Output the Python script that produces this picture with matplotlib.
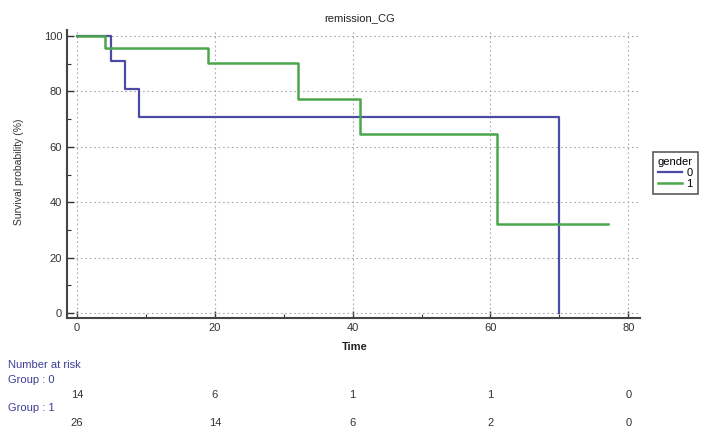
import matplotlib
matplotlib.use("Agg")
import matplotlib.pyplot as plt
from matplotlib.ticker import MultipleLocator

plt.rcParams['font.family'] = ['Liberation Sans', 'DejaVu Sans']

title = "remission_CG"
xlabel = "Time"
ylabel = "Survival probability (%)"
legend_title = "gender"
group_labels = ["0", "1"]

t0 = [0, 5, 7, 9, 70]
s0 = [100, 90.9, 80.8, 70.7, 0]
t1 = [0, 4, 19, 32, 41, 61, 77]
s1 = [100, 95.7, 90.3, 77.3, 64.6, 32.3, 32.3]

risk_times = [0, 20, 40, 60, 80]
risk0 = [14, 6, 1, 1, 0]
risk1 = [26, 14, 6, 2, 0]

blue = "#4b4ba6"
green = "#4aa64a"
textblue = "#3c3c96"

W, H = 718, 430
fig = plt.figure(figsize=(W/100, H/100), dpi=100)
ax = fig.add_axes([67/W, 1-318/H, (640-67)/W, (318-30)/H])
ax.set_xlim(-1.45, 81.7)
ax.set_ylim(-1.8, 102.2)

l0, = ax.step(t0, s0, where='post', color=blue, lw=1.6)
l1, = ax.step(t1, s1, where='post', color=green, lw=1.8)

ax.xaxis.set_major_locator(MultipleLocator(20))
ax.xaxis.set_minor_locator(MultipleLocator(10))
ax.yaxis.set_major_locator(MultipleLocator(20))
ax.yaxis.set_minor_locator(MultipleLocator(10))
ax.grid(True, which='major', linestyle=(0, (1.5, 2.5)), color='#aaaaaa', lw=0.8)
ax.tick_params(which='both', direction='in', labelsize=8, colors='#333333')
ax.tick_params(which='major', length=5, width=1)
ax.tick_params(which='minor', length=3, width=0.8)
for s in ['top', 'right']:
    ax.spines[s].set_visible(False)
for s in ['left', 'bottom']:
    ax.spines[s].set_color('#444444')
    ax.spines[s].set_linewidth(1.5)

fig.text(360/W, 1-18/H, title, ha='center', va='center', fontsize=8, color='#222222')
fig.text(355/W, 1-347/H, xlabel, ha='center', va='center', fontsize=8, color='#222222', fontweight='bold')
fig.text(19/W, 1-172/H, ylabel, ha='center', va='center', fontsize=7.5, color='#333333', rotation=90)

leg = fig.legend([l0, l1], group_labels, title=legend_title, loc='upper left',
                 bbox_to_anchor=(647/W, 1-146/H), fontsize=8, title_fontsize=8,
                 frameon=True, fancybox=False, edgecolor='#333333', handlelength=2.2,
                 handletextpad=0.4, borderpad=0.45, labelspacing=0.1, alignment='left')
leg.get_frame().set_linewidth(1.2)

fig.text(8/W, 1-365/H, "Number at risk", ha='left', va='center', fontsize=8, color=textblue)
fig.text(8/W, 1-380/H, "Group : 0", ha='left', va='center', fontsize=8, color=textblue)
fig.text(8/W, 1-408/H, "Group : 1", ha='left', va='center', fontsize=8, color=textblue)
for t, a, b in zip(risk_times, risk0, risk1):
    xf = fig.transFigure.inverted().transform(ax.transData.transform((t, 0)))[0]
    fig.text(xf, 1-395/H, str(a), ha='center', va='center', fontsize=8, color='#333333')
    fig.text(xf, 1-423/H, str(b), ha='center', va='center', fontsize=8, color='#333333')

fig.savefig("out.png", dpi=100)
